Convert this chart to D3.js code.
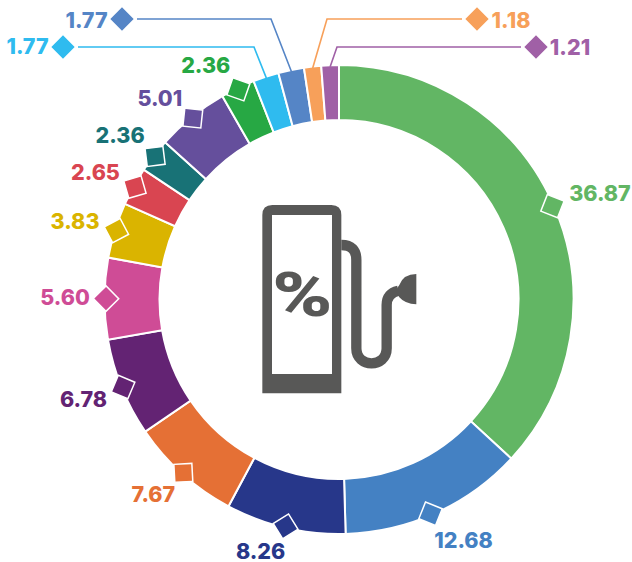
<!DOCTYPE html>
<html>
<head>
<meta charset="utf-8">
<script src="https://cdn.jsdelivr.net/npm/d3@7"></script>
<style>
  html, body { margin: 0; padding: 0; background: #fff; }
  svg { display: block; }
  text { font-family: Inter, sans-serif; font-weight: 800; font-size: 21.5px; text-anchor: middle; }
</style>
</head>
<body>
<svg id="chart" width="632" height="562"></svg>
<script>
// share of each slice, clockwise from the top
let values = [36.87, 12.68, 8.26, 7.67, 6.78, 5.60, 3.83, 2.65, 2.36, 5.01, 2.36, 1.77, 1.77, 1.18, 1.21];
let labels = ['36.87', '12.68', '8.26', '7.67', '6.78', '5.60', '3.83', '2.65', '2.36', '5.01', '2.36', '1.77', '1.77', '1.18', '1.21'];
let colors = ['#62b664', '#4481c3', '#27378a', '#e57035', '#632373', '#cf4c96', '#dab400', '#d94551',
              '#187276', '#654f9c', '#27a844', '#2fbbef', '#5585c6', '#f7a05a', '#a060a6'];

// layout only: label offset from its diamond, in px
let labelDx = [47.5, 33, -25, -30, -39.5, -41, -41.4, -39.5, -35, -33, -32.6, -35.5, -35.5, 34, 34];
let labelDy = [-13.3, 26, 25, 21, 11.5, -1.7, -9.7, -15, -21, -20, -24, -1, 0.5, 0.5, 0];

// the 12.68 diamond sits a little past the middle of its slice (radians)
let markNudge = {1: 0.023};

// the four thin slices get a leader line: index -> [diamond x, line y, elbow x]
let leaders = {
    11: [63, 47, 254],
    12: [122, 19, 271],
    13: [477, 19, 327],
    14: [536, 47, 337]
};

let cx = 339, cy = 299.5;
let outerR = 234.5, innerR = 179.5, markR = 233;
let side = 18;

let svg = d3.select('#chart');
let g = svg.append('g').attr('transform', `translate(${cx},${cy})`);

let pie = d3.pie().sort(null).value(d => d);
let arcs = pie(values);
let arc = d3.arc().innerRadius(innerR).outerRadius(outerR);

g.selectAll('path.slice')
    .data(arcs)
    .enter()
    .append('path')
    .attr('class', 'slice')
    .attr('d', arc)
    .attr('fill', (d, i) => colors[i])
    .attr('stroke', '#fff')
    .attr('stroke-width', 2);

let mid = d => (d.startAngle + d.endAngle) / 2 + (markNudge[d.index] || 0);
let edgeX = d => markR * Math.sin(mid(d));
let edgeY = d => -markR * Math.cos(mid(d));

// leader lines
arcs.forEach((d, i) => {
    let l = leaders[i];
    if (!l) return;
    let gap = l[0] < cx ? 15 : -15;
    let pts = [[edgeX(d), edgeY(d)], [l[2] - cx, l[1] - cy], [l[0] + gap - cx, l[1] - cy]];
    g.append('path')
        .attr('d', d3.line()(pts))
        .attr('fill', 'none')
        .attr('stroke', colors[i])
        .attr('stroke-width', 1.6);
});

// diamonds and labels
arcs.forEach((d, i) => {
    let l = leaders[i];
    let x = l ? l[0] - cx : edgeX(d);
    let y = l ? l[1] - cy : edgeY(d);
    let rot = l ? 45 : 45 + mid(d) * 180 / Math.PI;
    g.append('rect')
        .attr('x', -side / 2)
        .attr('y', -side / 2)
        .attr('width', side)
        .attr('height', side)
        .attr('transform', `translate(${x},${y}) rotate(${rot})`)
        .attr('fill', colors[i])
        .attr('stroke', '#fff')
        .attr('stroke-width', 1.5);
    g.append('text')
        .attr('x', x + labelDx[i])
        .attr('y', y + labelDy[i] + 8)
        .attr('fill', colors[i])
        .text(labels[i]);
});

// pump icon, drawn in a 3x grid
let icon = svg.append('g').attr('transform', 'translate(240,190) scale(0.33333)');
icon.append('path')
    .attr('fill-rule', 'evenodd')
    .attr('fill', '#585857')
    .attr('d', 'M67 610V75Q67 45 97 45H274Q304 45 304 75V610Z M96 75V552H276V75Z');
icon.append('path')
    .attr('fill', 'none')
    .attr('stroke', '#585857')
    .attr('stroke-width', 31)
    .attr('d', 'M304 165Q349 165 349 210V475C349 535 440 535 440 475V345Q440 310 475 302');
icon.append('path')
    .attr('fill', '#585857')
    .attr('d', 'M529 252V343Q495 342 478 322Q462 302 478 285Q490 252 529 252Z');
icon.append('text')
    .attr('transform', 'translate(187,379) scale(1.28,0.97)')
    .attr('fill', '#585857')
    .style('font-family', 'Roboto')
    .style('font-weight', 900)
    .style('font-size', '190px')
    .text('%');
</script>
</body>
</html>
